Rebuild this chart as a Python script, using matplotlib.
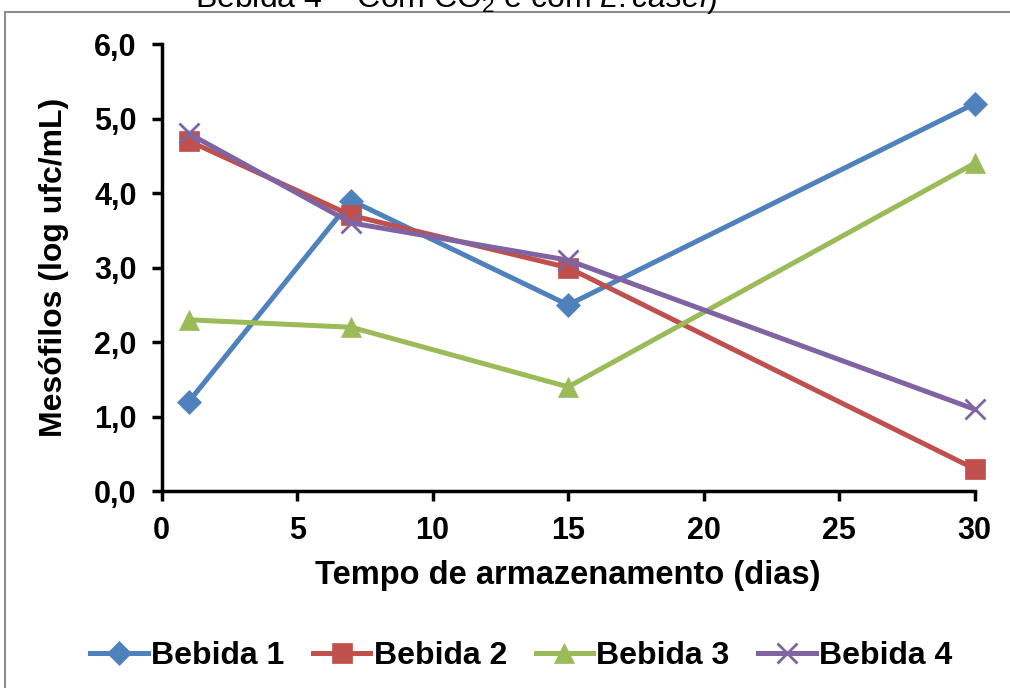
import matplotlib
matplotlib.use("Agg")
import matplotlib.pyplot as plt
from matplotlib.patches import Rectangle

plt.rcParams['font.family'] = ['Liberation Sans', 'DejaVu Sans']
plt.rcParams['mathtext.fontset'] = 'custom'
plt.rcParams['mathtext.rm'] = 'Liberation Sans:weight=normal'
plt.rcParams['mathtext.it'] = 'Liberation Sans:style=italic:weight=normal'

# data
dias = [1, 7, 15, 30]
bebida1 = [1.2, 3.9, 2.5, 5.2]
bebida2 = [4.7, 3.7, 3.0, 0.3]
bebida3 = [2.3, 2.2, 1.4, 4.4]
bebida4 = [4.8, 3.6, 3.1, 1.1]
nomes = ["Bebida 1", "Bebida 2", "Bebida 3", "Bebida 4"]
cores = ["#4F81BD", "#C0504D", "#9BBB59", "#8064A2"]
marcadores = ["D", "s", "^", "x"]
tamanhos = [12, 15, 15, 14]

fig = plt.figure(figsize=(10.1, 6.88), dpi=100)
ax = fig.add_axes([0.160, 0.286, 0.805, 0.650])

# moldura cinza
fig.patches.append(Rectangle((0.005, -0.05), 1.2, 1.033, transform=fig.transFigure,
                             fill=False, edgecolor="#8c8c8c", lw=1.5))

# titulo cortado no topo
fig.text(0.452, 1 - 7 / 688, r"Bebida 4 – Com CO$_\mathrm{2}$ e com $\mathit{L. casei}$)",
         ha="center", va="baseline", fontsize=23, fontweight="normal")

for serie, nome, cor, m, s in zip([bebida1, bebida2, bebida3, bebida4], nomes, cores, marcadores, tamanhos):
    ax.plot(dias, serie, color=cor, lw=3.6, marker=m, markersize=s,
            markeredgewidth=2 if m == "x" else 0.5, markeredgecolor=cor, label=nome,
            clip_on=False)

ax.set_xlim(0, 30)
ax.set_ylim(0, 6)
ax.set_xticks([0, 5, 10, 15, 20, 25, 30])
ax.set_yticks([0, 1, 2, 3, 4, 5, 6])
ax.set_yticklabels([f"{v:.1f}".replace(".", ",") for v in range(7)])

for lado in ["top", "right"]:
    ax.spines[lado].set_visible(False)
for lado in ["left", "bottom"]:
    ax.spines[lado].set_linewidth(2.5)
ax.tick_params(direction="out", length=7, width=2.5, labelsize=22, pad=11)
for t in ax.get_xticklabels() + ax.get_yticklabels():
    t.set_fontweight("bold")

ax.set_xlabel("Tempo de armazenamento (dias)", fontsize=23.5, fontweight="bold", labelpad=10)
ax.set_ylabel("Mesófilos (log ufc/mL)", fontsize=23, fontweight="bold", labelpad=18)

fig.legend(loc="center", bbox_to_anchor=(0.516, 1 - 656 / 688), ncol=4, frameon=False,
           prop={"size": 23, "weight": "bold"}, handlelength=1.8, columnspacing=0.9,
           handletextpad=0.1)

fig.savefig("out.png", dpi=100)
